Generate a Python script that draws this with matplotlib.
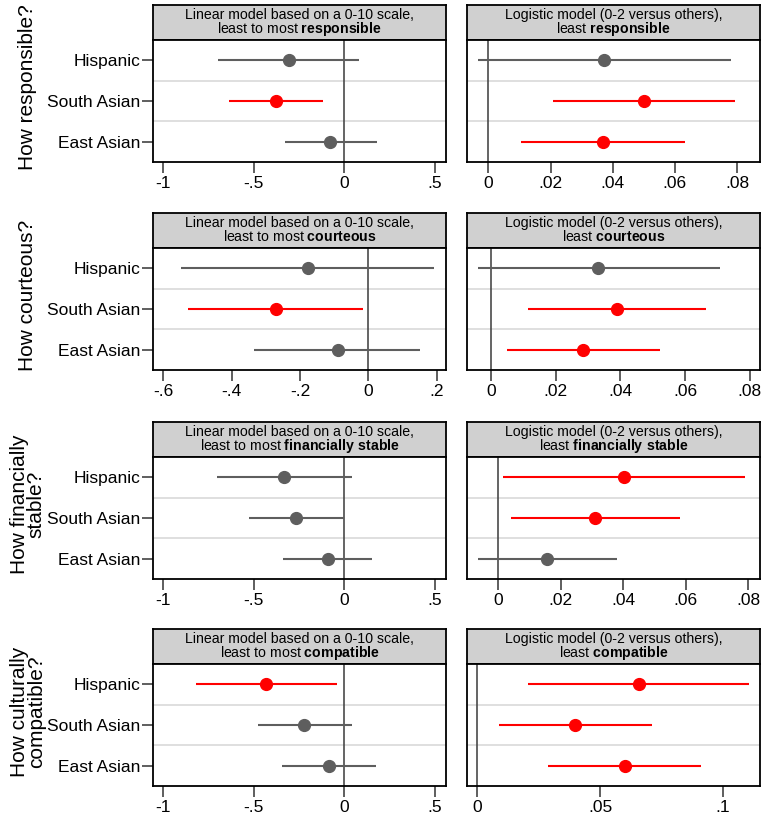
import matplotlib
matplotlib.use("Agg")
from matplotlib import pyplot as plt
import numpy as np

plt.rcParams["font.family"] = ["Liberation Sans", "DejaVu Sans"]
plt.rcParams["mathtext.fontset"] = "custom"
plt.rcParams["mathtext.rm"] = "Liberation Sans"
plt.rcParams["mathtext.bf"] = "Liberation Sans:bold"

groups = ["Hispanic", "South Asian", "East Asian"]
questions = ["How responsible?", "How courteous?",
             "How financially\nstable?", "How culturally\ncompatible?"]
traits = ["responsible", "courteous", "financially\\ stable", "compatible"]

# linear model, 0-10 scale (one row per question, Hispanic / South Asian / East Asian)
lin_est = [[-0.307, -0.377, -0.077],
           [-0.177, -0.270, -0.090],
           [-0.331, -0.266, -0.092],
           [-0.432, -0.221, -0.087]]
lin_lo = [[-0.695, -0.634, -0.327],
          [-0.548, -0.527, -0.334],
          [-0.704, -0.524, -0.340],
          [-0.818, -0.478, -0.346]]
lin_hi = [[0.079, -0.120, 0.178],
          [0.193, -0.015, 0.152],
          [0.042, -0.004, 0.153],
          [-0.040, 0.042, 0.175]]
lin_sig = [[0, 1, 0], [0, 1, 0], [0, 0, 0], [1, 0, 0]]

# logistic model, 0-2 versus others
log_est = [[0.0372, 0.0500, 0.0369],
           [0.0332, 0.0389, 0.0284],
           [0.0403, 0.0311, 0.0156],
           [0.0657, 0.0399, 0.0600]]
log_lo = [[-0.0035, 0.0207, 0.0105],
          [-0.0042, 0.0114, 0.0048],
          [0.0016, 0.0041, -0.0065],
          [0.0205, 0.0090, 0.0290]]
log_hi = [[0.0780, 0.0793, 0.0633],
          [0.0707, 0.0666, 0.0523],
          [0.0789, 0.0582, 0.0380],
          [0.1107, 0.0711, 0.0912]]
log_sig = [[0, 1, 1], [0, 1, 1], [1, 1, 0], [1, 1, 1]]

lin_ticks = [[-1, -0.5, 0, 0.5], [-0.6, -0.4, -0.2, 0, 0.2],
             [-1, -0.5, 0, 0.5], [-1, -0.5, 0, 0.5]]
lin_labels = [["-1", "-.5", "0", ".5"], ["-.6", "-.4", "-.2", "0", ".2"],
              ["-1", "-.5", "0", ".5"], ["-1", "-.5", "0", ".5"]]
log_ticks = [[0, 0.02, 0.04, 0.06, 0.08]] * 3 + [[0, 0.05, 0.1]]
log_labels = [["0", ".02", ".04", ".06", ".08"]] * 3 + [["0", ".05", ".1"]]
lin_xlim = [(-1.055, 0.56), (-0.630, 0.227), (-1.055, 0.56), (-1.055, 0.56)]
log_xlim = [(-0.0069, 0.0874), (-0.0075, 0.0832), (-0.0099, 0.0837), (-0.0042, 0.1152)]

W, H = 762, 815
GREY = "#5e5e5e"
RED = "#ff0000"

fig = plt.figure(figsize=(W / 100, H / 100), dpi=100)
fig.patch.set_facecolor("white")


def box(x0, y0, x1, y1):
    return [x0 / W, 1 - y1 / H, (x1 - x0) / W, (y1 - y0) / H]


def panel(x0, x1, top, est, lo, hi, sig, ticks, labels, xlim, line1, line2, show_y):
    strip = fig.add_axes(box(x0, top, x1, top + 35))
    strip.set_facecolor("#d0d0d0")
    strip.set_xticks([])
    strip.set_yticks([])
    for s in strip.spines.values():
        s.set_linewidth(1.3)
    strip.text(0.5, 0.60, line1, ha="center", va="baseline", fontsize=10.2,
               transform=strip.transAxes)
    strip.text(0.5, 0.19, line2, ha="center", va="baseline", fontsize=10.2,
               transform=strip.transAxes)

    ax = fig.add_axes(box(x0, top + 35, x1, top + 157))
    y = np.arange(1, len(groups) + 1)
    ax.axvline(0, color="#4a4a4a", lw=1.2, zorder=1)
    for yy in [1.5, 2.5]:
        ax.axhline(yy, color="#dcdcdc", lw=1.3, zorder=0)
    for i in range(len(groups)):
        c = RED if sig[i] else GREY
        ax.plot([lo[i], hi[i]], [y[i], y[i]], color=c, lw=1.5, zorder=2,
                solid_capstyle="butt")
        ax.plot(est[i], y[i], "o", color=c, ms=8.5, zorder=3)
    ax.set_xlim(*xlim)
    ax.set_ylim(3.5, 0.5)
    ax.set_xticks(ticks)
    ax.set_xticklabels(labels, fontsize=12.5)
    ax.tick_params(axis="x", length=8, width=1.1, color="#333333", pad=2)
    if show_y:
        ax.set_yticks(y)
        ax.set_yticklabels(groups, fontsize=12.5)
        ax.tick_params(axis="y", length=8, width=1.1, color="#333333", pad=1)
    else:
        ax.set_yticks([])
    for s in ax.spines.values():
        s.set_linewidth(1.3)
    return ax


tops = [5, 213, 422, 629]
for r in range(4):
    top = tops[r]
    panel(153, 446, top, lin_est[r], lin_lo[r], lin_hi[r], lin_sig[r],
          lin_ticks[r], lin_labels[r], lin_xlim[r],
          "Linear model based on a 0-10 scale,",
          "least to most $\\mathbf{" + traits[r] + "}$", True)
    panel(467, 760, top, log_est[r], log_lo[r], log_hi[r], log_sig[r],
          log_ticks[r], log_labels[r], log_xlim[r],
          "Logistic model (0-2 versus others),",
          "least $\\mathbf{" + traits[r] + "}$", False)
    yc = (top + top + 157) / 2 + 4
    fig.text(28 / W, 1 - yc / H, questions[r], rotation=90, ha="center",
             va="center", fontsize=15, linespacing=0.85, multialignment="center")

fig.savefig("out.png", dpi=100, facecolor="white")
